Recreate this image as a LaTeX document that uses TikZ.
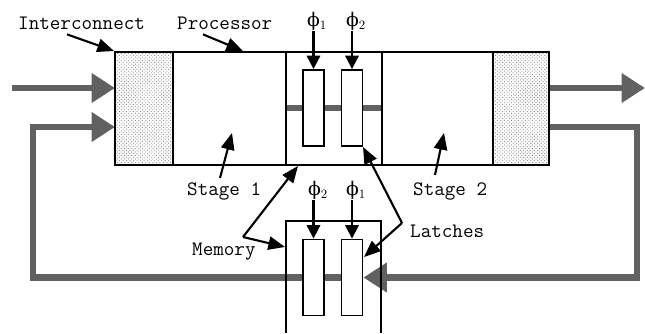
\documentclass[tikz,border=0pt]{standalone}
\usepackage{fontspec}
\newfontfamily\phifont{DejaVu Serif}
\usetikzlibrary{arrows.meta,patterns,calc}
\begin{document}
\begin{tikzpicture}[x=0.03cm,y=-0.03cm]
	\tikzset{bus/.style={line width=5.5pt, draw=black!62},
		busarrow/.style={bus, -{Triangle[length=0.7cm,width=0.85cm]}},
		pointer/.style={line width=1.8pt, -{Triangle[length=0.5cm,width=0.4cm]}},
		clock/.style={line width=1.8pt, -{Triangle[length=0.4cm,width=0.4cm]}},
		latch/.style={draw, line width=1.6pt, fill=white, minimum width=0.63cm, minimum height=2.28cm, inner sep=0pt},
		tag/.style={font=\fontsize{17.5}{20}\selectfont\ttfamily, inner sep=0pt},
		phase/.style={font=\fontsize{16}{18}\selectfont\phifont, inner sep=0pt, anchor=south},
		icfill/.style={pattern=crosshatch dots, pattern color=black!50}}
	\useasboundingbox (0,0) rectangle (645,333);
	% corners and bus ends
	\coordinate (pNW) at (115,52);
	\coordinate (pSE) at (549,165);
	\coordinate (inA) at (12,88);
	\coordinate (icL1) at (115,88);
	\coordinate (icL2) at (115,127);
	\coordinate (icR1) at (549,88);
	\coordinate (icR2) at (549,127);
	\coordinate (outA) at (645,88);
	\coordinate (loopL) at (33,127);
	\coordinate (loopR) at (637,127);
	\coordinate (s1e) at (286,108);
	\coordinate (s2w) at (382,108);
	% latches
	\node[latch] (l1) at (313.5,108) {};
	\node[latch] (l2) at (352,108) {};
	\node[latch] (m1) at (313.5,277.5) {};
	\node[latch] (m2) at (352,277.5) {};
	% buses
	\draw[busarrow] (inA) -- (icL1);
	\draw[busarrow] (icR1) -- (outA);
	\draw[busarrow] (m2.center) -| (loopL) -- (icL2);
	\draw[busarrow] (icR2) -- (loopR) |- (m2.east);
	% processor
	\fill[white] (pNW) rectangle (pSE);
	\fill[icfill] (115,52) rectangle (173,165);
	\fill[icfill] (493,52) rectangle (549,165);
	\draw[bus] (s1e) -- (s2w);
	\draw[line width=1.6pt] (pNW) rectangle (pSE);
	\draw[line width=1.6pt] (173,52) -- (173,165);
	\draw[line width=1.6pt] (286,52) -- (286,165);
	\draw[line width=1.6pt] (382,52) -- (382,165);
	\draw[line width=1.6pt] (493,52) -- (493,165);
	% memory
	\draw[line width=1.6pt] (286,333) -- (286,221) -- (381,221) -- (381,333);
	\node[latch] at (l1) {};
	\node[latch] at (l2) {};
	\node[latch] at (m1) {};
	\node[latch] at (m2) {};
	% clocks
	\node[phase] (p1) at (317,31) {ϕ$_1$};
	\node[phase] (p2) at (356,31) {ϕ$_2$};
	\node[phase] (q2) at (318,200) {ϕ$_2$};
	\node[phase] (q1) at (356,200) {ϕ$_1$};
	\draw[clock] (p1.south -| l1.north) -- (l1.north);
	\draw[clock] (p2.south -| l2.north) -- (l2.north);
	\draw[clock] (q2.south -| m1.north) -- (m1.north);
	\draw[clock] (q1.south -| m2.north) -- (m2.north);
	% labels
	\node[tag, anchor=base west] (ictext) at (18,29) {Interconnect};
	\node[tag, anchor=base west] (ptext) at (177,29) {Processor};
	\node[tag, anchor=base west] (s1text) at (187,195) {Stage 1};
	\node[tag, anchor=base west] (s2text) at (413,195) {Stage 2};
	\node[tag, anchor=base west] (mtext) at (192,255) {Memory};
	\node[tag, anchor=base west] (ltext) at (410,237) {Latches};
	\coordinate (mv) at (243,237);
	\coordinate (lv) at (402,223);
	\draw[pointer] ($(ictext.south west)+(49,5)$) -- (114,51);
	\draw[pointer] ($(ptext.south west)+(26,5)$) -- (243,51);
	\draw[pointer] ($(s1text.north west)+(33,-4)$) -- (232,133);
	\draw[pointer] ($(s2text.north west)+(22,-7)$) -- (444,133);
	\draw[pointer] (mv) -- (298,166);
	\draw[pointer] (mv) -- (285,247);
	\draw[pointer] (lv) -- (363,147);
	\draw[pointer] (lv) -- (364,257);
\end{tikzpicture}
\end{document}
